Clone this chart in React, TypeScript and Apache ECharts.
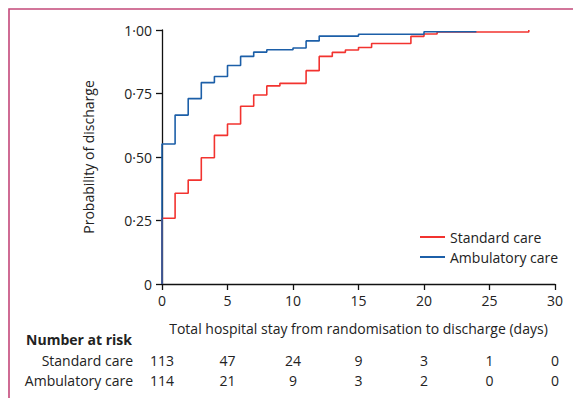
import React, { useEffect, useRef } from "react";
import * as echarts from "echarts";

const FONT = "'Open Sans', Lato, sans-serif";
const RED = "#f2332f";
const BLUE = "#1c5fa8";

const seriesNames = ["Standard care", "Ambulatory care"];
const standardDays = [0, 0, 1, 2, 3, 4, 5, 6, 7, 8, 9, 11, 12, 13, 14, 15, 16, 19, 20, 21, 28, 28];
const standardProb = [0, 0.259, 0.357, 0.409, 0.497, 0.585, 0.63, 0.7, 0.744, 0.78, 0.79, 0.84, 0.896, 0.912, 0.921, 0.931, 0.947, 0.975, 0.984, 0.992, 0.992, 1.0];
const ambulatoryDays = [0, 0, 1, 2, 3, 4, 5, 6, 7, 8, 10, 11, 12, 15, 20, 24];
const ambulatoryProb = [0, 0.551, 0.665, 0.73, 0.793, 0.817, 0.86, 0.896, 0.913, 0.922, 0.929, 0.957, 0.976, 0.983, 0.993, 0.993];

const riskDays = [0, 5, 10, 15, 20, 25, 30];
const riskStandard = [113, 47, 24, 9, 3, 1, 0];
const riskAmbulatory = [114, 21, 9, 3, 2, 0, 0];

export default function App() {
  const ref = useRef<HTMLDivElement>(null);
  useEffect(() => {
    if (!ref.current) return;
    const chart = echarts.init(ref.current, null, { renderer: "svg" });
    const zip = (xs: number[], ys: number[]) => xs.map((x, i) => [x, ys[i]]);
    chart.setOption({
      animation: false,
      grid: { left: 162, top: 30, right: 18, bottom: 114, containLabel: false },
      legend: {
        data: seriesNames,
        orient: "vertical",
        left: 415,
        top: 225,
        itemWidth: 25,
        itemHeight: 2,
        itemGap: 6,
        icon: "rect",
        textStyle: { fontFamily: FONT, fontSize: 14, color: "#222" },
      },
      xAxis: {
        type: "value",
        min: 0,
        max: 30,
        interval: 5,
        name: "Total hospital stay from randomisation to discharge (days)",
        nameLocation: "middle",
        nameGap: 37,
        nameTextStyle: { fontFamily: FONT, fontSize: 14, color: "#222" },
        splitLine: { show: false },
        axisLine: { lineStyle: { color: "#111", width: 1.3 } },
        axisTick: { length: 6, lineStyle: { color: "#111", width: 1.3 } },
        axisLabel: { fontFamily: FONT, fontSize: 14, color: "#222", margin: 9 },
      },
      yAxis: {
        type: "value",
        min: 0,
        max: 1,
        interval: 0.25,
        name: "Probability of discharge",
        nameLocation: "middle",
        nameGap: 67,
        nameTextStyle: { fontFamily: FONT, fontSize: 14, color: "#222" },
        splitLine: { show: false },
        axisLine: { show: true, lineStyle: { color: "#111", width: 1.3 } },
        axisTick: { show: true, length: 6, lineStyle: { color: "#111", width: 1.3 } },
        axisLabel: {
          fontFamily: FONT,
          fontSize: 14,
          color: "#222",
          margin: 10,
          formatter: (v: number) => (v === 0 ? "0" : v.toFixed(2).replace(".", "·")),
        },
      },
      series: [
        {
          name: seriesNames[0],
          type: "line",
          step: "end",
          symbol: "none",
          color: RED,
          lineStyle: { width: 1.6, color: RED },
          data: zip(standardDays, standardProb),
          z: 2,
        },
        {
          name: seriesNames[1],
          type: "line",
          step: "end",
          symbol: "none",
          color: BLUE,
          lineStyle: { width: 1.6, color: BLUE },
          data: zip(ambulatoryDays, ambulatoryProb),
          z: 3,
        },
      ],
    });

    const textStyle = (text: string, bold = false) => ({
      text,
      fontFamily: FONT,
      fontSize: 14,
      fontWeight: bold ? "bold" : "normal",
      fill: "#222",
    });
    const elements: any[] = [
      {
        type: "polyline",
        shape: { points: [[9, 398], [9, 9], [573, 9]] },
        style: { stroke: "#c4487a", lineWidth: 1.6, fill: null },
        silent: true,
      },
      {
        type: "text",
        x: 132,
        y: 339,
        style: { ...textStyle("Number at risk", true), align: "right", verticalAlign: "middle" },
      },
      {
        type: "text",
        x: 133,
        y: 360,
        style: { ...textStyle(seriesNames[0]), align: "right", verticalAlign: "middle" },
      },
      {
        type: "text",
        x: 133,
        y: 380,
        style: { ...textStyle(seriesNames[1]), align: "right", verticalAlign: "middle" },
      },
    ];
    riskDays.forEach((d, i) => {
      const px = chart.convertToPixel({ xAxisIndex: 0 }, d) as number;
      elements.push({
        type: "text",
        x: px,
        y: 360,
        style: { ...textStyle(String(riskStandard[i])), align: "center", verticalAlign: "middle" },
      });
      elements.push({
        type: "text",
        x: px,
        y: 380,
        style: { ...textStyle(String(riskAmbulatory[i])), align: "center", verticalAlign: "middle" },
      });
    });
    chart.setOption({ graphic: { elements } });

    return () => chart.dispose();
  }, []);
  return <div ref={ref} style={{ width: 573, height: 398, position: "absolute", left: 0, top: 0 }} />;
}
